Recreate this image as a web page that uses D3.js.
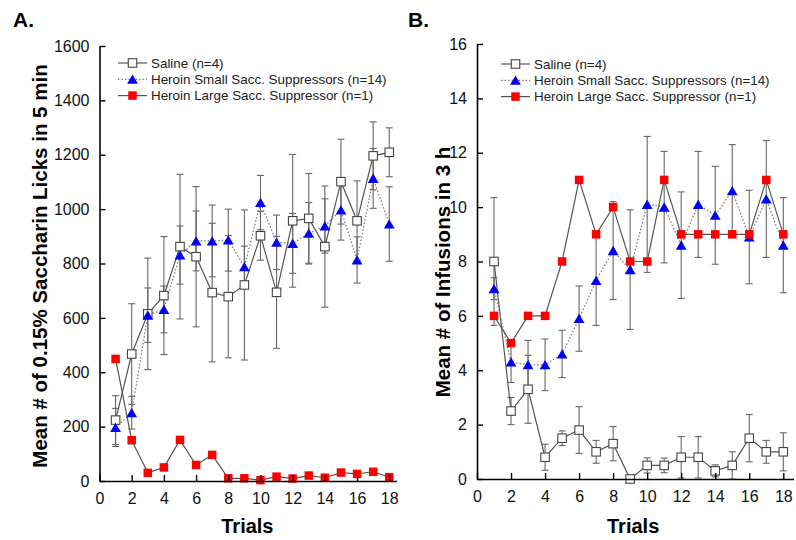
<!DOCTYPE html>
<html>
<head>
<meta charset="utf-8">
<script src="https://cdn.jsdelivr.net/npm/d3@7"></script>
<style>
  body { margin: 0; background: #fff; }
  svg { font-family: "Liberation Sans", Arial, sans-serif; }
</style>
</head>
<body>
<script>
const w = 796;
const h = 540;

// data
const trials = [1, 2, 3, 4, 5, 6, 7, 8, 9, 10, 11, 12, 13, 14, 15, 16, 17, 18];
const xTicks = [0, 2, 4, 6, 8, 10, 12, 14, 16, 18];
const licksTicks = [0, 200, 400, 600, 800, 1000, 1200, 1400, 1600];
const infTicks = [0, 2, 4, 6, 8, 10, 12, 14, 16];

const legendLabels = ["Saline (n=4)", "Heroin Small Sacc. Suppressors (n=14)", "Heroin Large Sacc. Suppressor (n=1)"];

// panel A - saccharin licks
const salineLicks    = [224, 467, 615, 682, 862, 825, 693, 678, 721, 902, 694, 957, 966, 862, 1101, 957, 1196, 1209];
const salineLicksErr = [90, 185, 205, 217, 266, 258, 255, 225, 276, 90, 206, 244, 165, 223, 156, 147, 125, 90];
const smallLicks     = [197, 251, 610, 631, 831, 883, 883, 886, 788, 1024, 878, 874, 911, 938, 997, 813, 1113, 945];
const smallLicksErr  = [70, 60, 100, 86, 107, 110, 132, 114, 76, 100, 100, 110, 113, 100, 111, 85, 110, 137];
const largeLicks     = [449, 150, 30, 50, 151, 59, 96, 10, 10, 3, 16, 9, 20, 12, 31, 26, 34, 14];

// panel B - infusions
const salineInf    = [8.0, 2.5, 3.3, 0.8, 1.5, 1.8, 1.0, 1.3, 0.0, 0.5, 0.5, 0.8, 0.8, 0.3, 0.5, 1.5, 1.0, 1.0];
const salineInfErr = [2.35, 0.5, 1.25, 0.48, 0.27, 0.86, 0.42, 0.63, 0, 0.28, 0.27, 0.76, 0.76, 0.22, 0.5, 0.87, 0.42, 0.7];
const smallInf     = [7.0, 4.3, 4.2, 4.2, 4.6, 5.9, 7.3, 8.4, 7.7, 10.1, 10.0, 8.6, 10.1, 9.7, 10.6, 8.9, 10.3, 8.6];
const smallInfErr  = [0.4, 0.75, 0.9, 0.95, 0.87, 1.2, 1.65, 1.8, 2.2, 2.5, 2.05, 1.96, 1.95, 1.8, 1.7, 1.72, 2.15, 1.75];
const largeInf     = [6, 5, 6, 6, 8, 11, 9, 10, 8, 8, 11, 9, 9, 9, 9, 9, 11, 9];

const lineGrey = "#555";
const triPath = "M0,-4.8L5.4,4.5L-5.4,4.5Z";
const sq = 8.5;

const svg = d3.select("body")
    .append("svg")
    .attr("width", w)
    .attr("height", h);

function drawPanel(p) {
    const xScale = d3.scaleLinear()
        .domain([0, p.xMax])
        .range([p.left, p.right]);

    const yScale = d3.scaleLinear()
        .domain([0, p.yTicks[p.yTicks.length - 1]])
        .range([p.bottom, p.top]);

    const g = svg.append("g");

    const series = [
        { vals: p.saline, err: p.salineErr },
        { vals: p.small, err: p.smallErr },
        { vals: p.large, err: null }
    ];

    // error bars first so markers sit on top
    series.forEach(s => {
        if (!s.err) return;
        const eb = g.append("g")
            .attr("stroke", "#666")
            .attr("stroke-width", 1.1)
            .attr("fill", "none");
        trials.forEach((t, i) => {
            if (s.err[i] <= 0) return;
            const x = xScale(t);
            const y1 = yScale(s.vals[i] + s.err[i]);
            const y2 = yScale(Math.max(0, s.vals[i] - s.err[i]));
            eb.append("line").attr("x1", x).attr("x2", x).attr("y1", y1).attr("y2", y2);
            eb.append("line").attr("x1", x - 3.5).attr("x2", x + 3.5).attr("y1", y1).attr("y2", y1);
            eb.append("line").attr("x1", x - 3.5).attr("x2", x + 3.5).attr("y1", y2).attr("y2", y2);
        });
    });

    const line = d3.line()
        .x((d, i) => xScale(trials[i]))
        .y(d => yScale(d));

    g.append("path")
        .datum(p.saline)
        .attr("d", line)
        .attr("fill", "none")
        .attr("stroke", lineGrey)
        .attr("stroke-width", 1.2);

    g.append("path")
        .datum(p.small)
        .attr("d", line)
        .attr("fill", "none")
        .attr("stroke", "#777")
        .attr("stroke-width", 1.2)
        .attr("stroke-dasharray", "1.5,2");

    g.append("path")
        .datum(p.large)
        .attr("d", line)
        .attr("fill", "none")
        .attr("stroke", lineGrey)
        .attr("stroke-width", 1.2);

    // markers
    g.append("g")
        .selectAll("rect")
        .data(p.saline)
        .enter()
        .append("rect")
        .attr("x", (d, i) => xScale(trials[i]) - sq / 2)
        .attr("y", d => yScale(d) - sq / 2)
        .attr("width", sq)
        .attr("height", sq)
        .attr("fill", "#fff")
        .attr("stroke", "#444")
        .attr("stroke-width", 1.1);

    g.append("g")
        .selectAll("path")
        .data(p.small)
        .enter()
        .append("path")
        .attr("d", triPath)
        .attr("transform", (d, i) => `translate(${xScale(trials[i])}, ${yScale(d)})`)
        .attr("fill", "#0000f5");

    g.append("g")
        .selectAll("rect")
        .data(p.large)
        .enter()
        .append("rect")
        .attr("x", (d, i) => xScale(trials[i]) - sq / 2)
        .attr("y", d => yScale(d) - sq / 2)
        .attr("width", sq)
        .attr("height", sq)
        .attr("fill", "#f00");

    // axes, ticks point inward
    const xAxis = d3.axisBottom(xScale)
        .tickValues(xTicks)
        .tickFormat(d3.format("d"))
        .tickSizeInner(-6)
        .tickSizeOuter(0)
        .tickPadding(12);

    const yAxis = d3.axisLeft(yScale)
        .tickValues(p.yTicks)
        .tickFormat(d3.format("d"))
        .tickSizeInner(-6)
        .tickSizeOuter(0)
        .tickPadding(10);

    const gx = svg.append("g")
        .attr("transform", `translate(0, ${p.bottom})`)
        .call(xAxis);

    const gy = svg.append("g")
        .attr("transform", `translate(${p.left}, 0)`)
        .call(yAxis);

    [gx, gy].forEach(a => {
        a.select(".domain").attr("stroke", "#000").attr("stroke-width", 1.6);
        a.selectAll(".tick line").attr("stroke", "#000").attr("stroke-width", 1.4);
        a.selectAll(".tick text")
            .attr("font-family", "Liberation Sans, Arial, sans-serif")
            .attr("font-size", 16)
            .attr("fill", "#111");
    });

    // titles
    svg.append("text")
        .attr("x", p.panelX)
        .attr("y", 27)
        .attr("font-size", 21)
        .attr("font-weight", "bold")
        .text(p.panelLabel);

    svg.append("text")
        .attr("x", (p.left + xScale(18)) / 2 + 3)
        .attr("y", 533)
        .attr("text-anchor", "middle")
        .attr("font-size", 20)
        .attr("font-weight", "bold")
        .text("Trials");

    svg.append("text")
        .attr("transform", `translate(${p.yTitleX}, ${p.yTitleY}) rotate(-90)`)
        .attr("text-anchor", "middle")
        .attr("font-size", 20.5)
        .attr("font-weight", "bold")
        .text(p.yTitle);

    // legend
    const lg = svg.append("g")
        .attr("transform", `translate(${p.legendX}, ${p.legendY})`);

    legendLabels.forEach((label, i) => {
        const y = i * 16.3;
        const row = lg.append("g").attr("transform", `translate(0, ${y})`);
        row.append("line")
            .attr("x1", 0).attr("x2", 29)
            .attr("y1", 0).attr("y2", 0)
            .attr("stroke", i === 1 ? "#777" : lineGrey)
            .attr("stroke-width", 1.2)
            .attr("stroke-dasharray", i === 1 ? "1.5,2" : null);
        if (i === 1) {
            row.append("path").attr("d", triPath).attr("transform", "translate(14.5, 0)").attr("fill", "#0000f5");
        } else {
            row.append("rect")
                .attr("x", 14.5 - sq / 2).attr("y", -sq / 2)
                .attr("width", sq).attr("height", sq)
                .attr("fill", i === 0 ? "#fff" : "#f00")
                .attr("stroke", i === 0 ? "#444" : "none")
                .attr("stroke-width", 1.1);
        }
        row.append("text")
            .attr("x", 33)
            .attr("y", 4.7)
            .attr("font-size", 13.4)
            .attr("fill", "#222")
            .text(label);
    });
}

drawPanel({
    left: 99.5, right: 396.5, xMax: 18.45, top: 46, bottom: 481,
    yTicks: licksTicks,
    saline: salineLicks, salineErr: salineLicksErr,
    small: smallLicks, smallErr: smallLicksErr,
    large: largeLicks,
    panelLabel: "A.", panelX: 13,
    yTitle: "Mean # of 0.15% Saccharin Licks in 5 min", yTitleX: 47, yTitleY: 266,
    legendX: 118, legendY: 63
});

drawPanel({
    left: 477, right: 793.5, xMax: 18.6, top: 44, bottom: 479,
    yTicks: infTicks,
    saline: salineInf, salineErr: salineInfErr,
    small: smallInf, smallErr: smallInfErr,
    large: largeInf,
    panelLabel: "B.", panelX: 408,
    yTitle: "Mean # of Infusions in 3 h", yTitleX: 450, yTitleY: 272,
    legendX: 501, legendY: 64
});
</script>
</body>
</html>
